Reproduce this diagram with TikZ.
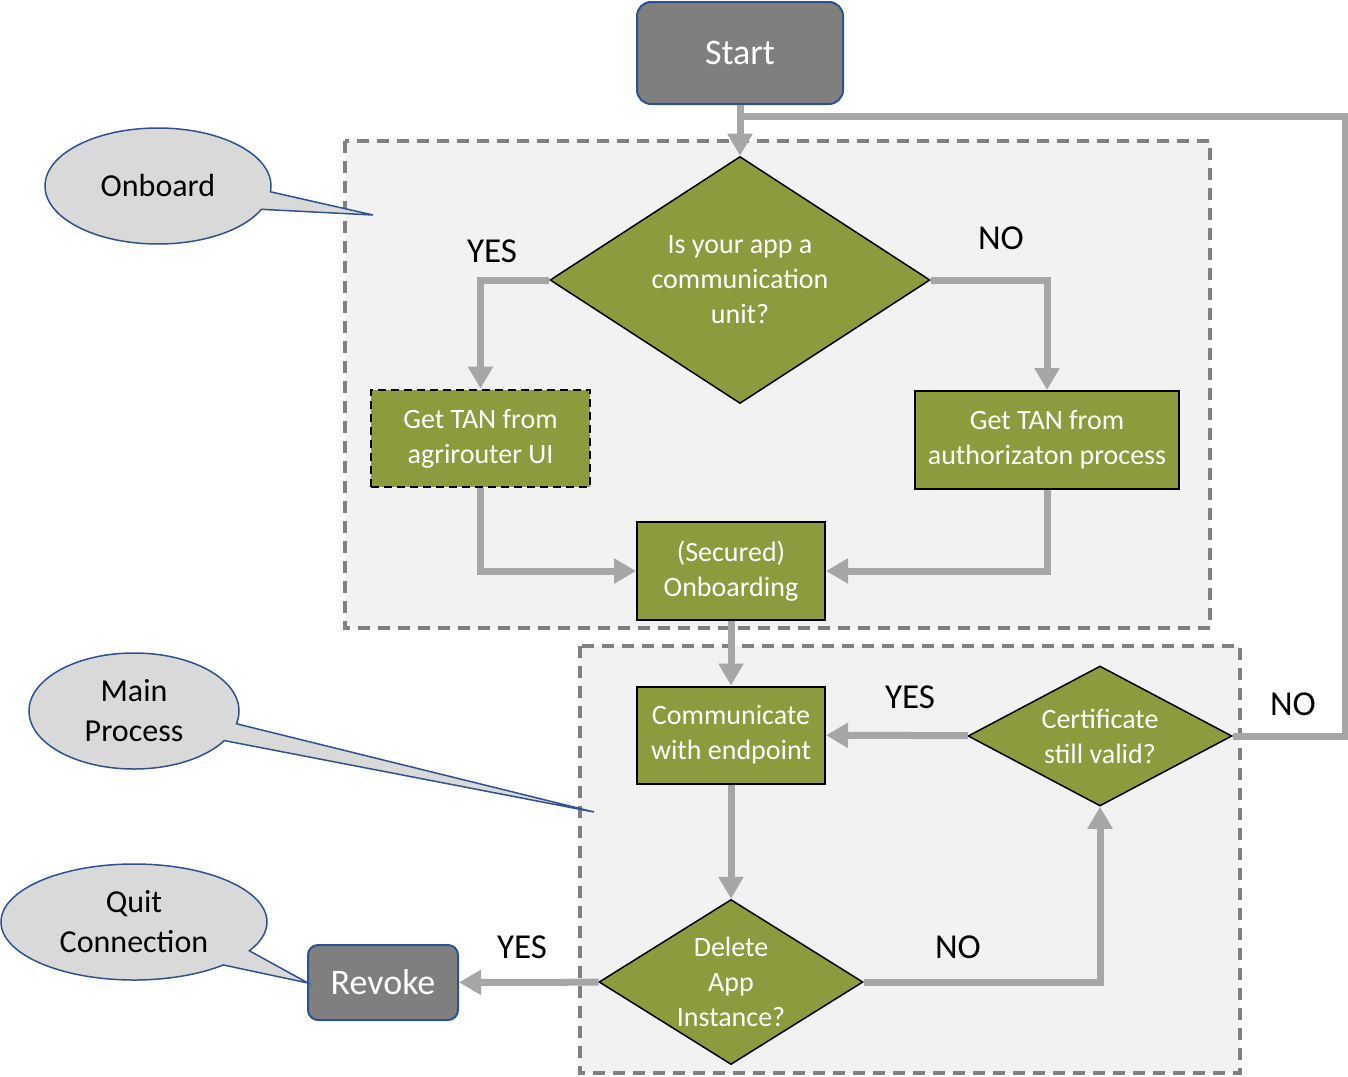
\documentclass[tikz,border=0pt]{standalone}
\usepackage{fontspec}
\setmainfont{Carlito}
\usetikzlibrary{shapes.geometric,shapes.callouts,arrows.meta}
\definecolor{olivebox}{HTML}{8C9B3E}
\definecolor{darkbox}{HTML}{7F7F7F}
\definecolor{boxblue}{HTML}{2F528F}
\definecolor{bubblefill}{HTML}{D9D9D9}
\definecolor{flowgray}{HTML}{A6A6A6}
\definecolor{areafill}{HTML}{F2F2F2}
\definecolor{arealine}{HTML}{808080}

\tikzset{
    area/.style={fill=areafill, draw=arealine, line width=3.5pt, dash pattern=on 12pt off 8pt},
    task/.style={rectangle, fill=olivebox, draw=black, line width=2pt, text=white, align=center,
        inner sep=0pt, font=\fontsize{28}{35}\selectfont},
    decision/.style={diamond, fill=olivebox, draw=black, line width=1.5pt, text=white, align=center,
        inner sep=-15pt, font=\fontsize{28}{35}\selectfont},
    terminal/.style={rectangle, rounded corners=14pt, fill=darkbox, draw=boxblue, line width=2pt,
        text=white, inner sep=0pt, font=\fontsize{36}{40}\selectfont},
    bubble/.style={ellipse callout, fill=bubblefill, draw=boxblue, line width=1.5pt, align=center,
        inner sep=0pt, callout pointer arc=18, font=\fontsize{32}{40}\selectfont},
    flowline/.style={draw=flowgray, line width=7pt},
    flow/.style={flowline, -{Triangle[length=22pt,width=24pt]}},
    answer/.style={font=\fontsize{35}{40}\selectfont}
}

\begin{document}
\begin{tikzpicture}[x=1pt, y=-1pt]
    \useasboundingbox (0,0) rectangle (1348,1076);

    % the two process areas
    \draw[area] (345,141) rectangle (1210,628);
    \draw[area] (580,646) rectangle (1240,1073);

    \node[terminal, minimum width=206pt, minimum height=102pt] (start) at (740,53) {Start};
    \node[decision, minimum width=380pt, minimum height=247pt] (isapp) at (740,280) {Is your app a\\communication\\unit?};
    \node[task, minimum width=219pt, minimum height=97pt, line width=2.8pt, dash pattern=on 8pt off 5pt] (tanui) at (480.5,438.5) {Get TAN from\\agrirouter UI};
    \node[task, minimum width=264pt, minimum height=98pt] (tanauth) at (1047,440) {Get TAN from\\authorizaton process};
    \node[task, minimum width=188pt, minimum height=98pt] (onboarding) at (731,571) {(Secured)\\Onboarding};
    \node[task, minimum width=188pt, minimum height=97pt] (communicate) at (731,735) {Communicate\\with endpoint};
    \node[decision, minimum width=264pt, minimum height=140pt] (cert) at (1100,736) {Certificate\\still valid?};
    \node[decision, minimum width=264pt, minimum height=165pt] (delete) at (731,982) {Delete\\App\\Instance?};
    \node[terminal, minimum width=150pt, minimum height=75pt, rounded corners=10pt] (revoke) at (383,982.5) {Revoke};

    % callouts
    \node[bubble, minimum width=226pt, minimum height=116pt, callout absolute pointer={(373,215)}] (onboardnote) at (158,186) {Onboard};
    \node[bubble, minimum width=210pt, minimum height=116pt, callout absolute pointer={(594,812)}] (mainnote) at (134,711) {Main\\Process};
    \node[bubble, minimum width=266pt, minimum height=116pt, callout absolute pointer={(308,983)}] (quitnote) at (134,922) {Quit\\Connection};

    % connectors
    \coordinate (rejoin) at (740,116);
    \draw[flowline] (cert.east) -- ++(113,0) |- (rejoin);
    \draw[flow] (start) -- (isapp);
    \draw[flow] (isapp.west) -| (tanui);
    \draw[flow] (isapp.east) -| (tanauth);
    \draw[flow] (tanui) |- (onboarding);
    \draw[flow] (tanauth) |- (onboarding);
    \draw[flow] (onboarding) -- (communicate);
    \draw[flow] (cert) -- (communicate);
    \draw[flow] (communicate) -- (delete);
    \draw[flow] (delete) -| (cert);
    \draw[flow] (delete) -- (revoke);

    \node[answer] (yesui) at (492,251) {YES};
    \node[answer] (noauth) at (1001,238) {NO};
    \node[answer] (yesvalid) at (910,697) {YES};
    \node[answer] (novalid) at (1293,704) {NO};
    \node[answer] (yesrevoke) at (522,947) {YES};
    \node[answer] (nokeep) at (958,947) {NO};
\end{tikzpicture}
\end{document}
